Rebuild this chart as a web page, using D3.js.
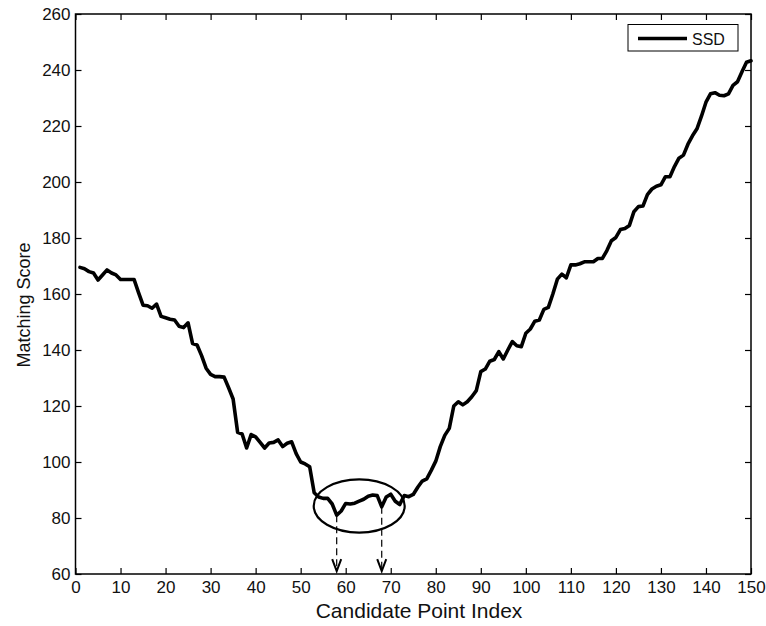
<!DOCTYPE html>
<html>
<head>
<meta charset="utf-8">
<script src="https://cdn.jsdelivr.net/npm/d3@7/dist/d3.min.js"></script>
<style>
  html, body { margin: 0; padding: 0; background: #fff; }
  svg { display: block; font-family: "Liberation Sans", Arial, Helvetica, sans-serif; }
</style>
</head>
<body>
<svg id="chart" width="766" height="626"></svg>
<script>
// Candidate point indices 1..150 and their SSD matching scores
const candidateIndex = d3.range(1, 151);
const ssdScores = [
  169.5, 169.0, 168.0, 167.5, 165.0, 166.8, 168.6, 167.5, 166.8, 165.2,
  165.2, 165.2, 165.2, 160.5, 156.0, 155.8, 154.9, 156.4, 152.0, 151.5,
  151.0, 150.7, 148.5, 148.0, 149.7, 142.3, 141.8, 138.0, 133.5, 131.3,
  130.5, 130.5, 130.3, 126.5, 122.5, 110.6, 110.0, 105.0, 109.8, 109.0,
  107.0, 105.0, 106.8, 107.0, 107.9, 105.5, 106.7, 107.2, 103.0, 100.0,
  99.3, 98.3, 89.0, 87.5, 87.0, 87.0, 85.0, 81.0, 82.5, 85.2,
  85.0, 85.3, 86.0, 86.7, 87.8, 88.2, 88.0, 84.0, 87.5, 88.5,
  86.0, 84.8, 88.0, 87.6, 88.4, 91.0, 93.2, 94.0, 97.0, 100.3,
  105.5, 109.5, 112.0, 120.0, 121.5, 120.4, 121.5, 123.3, 125.5, 132.3,
  133.2, 136.0, 136.6, 139.4, 136.8, 140.0, 143.0, 141.5, 141.2, 146.0,
  147.5, 150.3, 150.7, 154.5, 155.2, 160.0, 165.3, 167.1, 165.8, 170.4,
  170.4, 170.8, 171.5, 171.5, 171.5, 172.7, 172.7, 175.5, 179.0, 180.2,
  183.0, 183.4, 184.5, 189.4, 191.2, 191.4, 195.5, 197.5, 198.5, 199.0,
  201.9, 201.9, 205.5, 208.5, 209.6, 213.5, 216.5, 219.0, 223.5, 228.5,
  231.5, 231.9, 231.0, 230.8, 231.5, 234.5, 235.8, 239.4, 242.8, 243.3
];

// Axis ticks
const xTicks = d3.range(0, 151, 10);
const yTicks = d3.range(60, 261, 20);

// Highlighted region around the minimum and the two marked candidates
const regionCenter = [63, 84.3];
const regionRadii = [10.1, 9.5];
const markedIndex = [58, 68];

const seriesName = "SSD";
const xTitle = "Candidate Point Index";
const yTitle = "Matching Score";

const svg = d3.select("#chart");
const x = d3.scaleLinear().domain([0, 150]).range([75.5, 751]);
const y = d3.scaleLinear().domain([60, 260]).range([574, 14]);

const data = candidateIndex.map((i, k) => ({ i, v: ssdScores[k] }));
const tickLen = 6;

// Bottom and left axes with labels, ticks pointing inward
const gx = svg.append("g").attr("transform", `translate(0,${y(60)})`)
  .call(d3.axisBottom(x).tickValues(xTicks).tickSizeInner(-tickLen).tickSizeOuter(0).tickPadding(7));
const gy = svg.append("g").attr("transform", `translate(${x(0)},0)`)
  .call(d3.axisLeft(y).tickValues(yTicks).tickSizeInner(-tickLen).tickSizeOuter(0).tickPadding(5));
// Top and right axes: ticks only
const gt = svg.append("g").attr("transform", `translate(0,${y(260)})`)
  .call(d3.axisTop(x).tickValues(xTicks).tickSizeInner(-tickLen).tickSizeOuter(0).tickFormat(""));
const gr = svg.append("g").attr("transform", `translate(${x(150)},0)`)
  .call(d3.axisRight(y).tickValues(yTicks).tickSizeInner(-tickLen).tickSizeOuter(0).tickFormat(""));

[gx, gy, gt, gr].forEach(g => {
  g.select(".domain").remove();
  g.selectAll(".tick line").attr("stroke", "#000").attr("stroke-width", 1.2);
  g.selectAll(".tick text").attr("fill", "#111").style("font-size", "17px")
    .style("font-family", '"Liberation Sans", Arial, sans-serif');
});

// Plot box
svg.append("rect")
  .attr("x", x(0)).attr("y", y(260))
  .attr("width", x(150) - x(0)).attr("height", y(60) - y(260))
  .attr("fill", "none").attr("stroke", "#000").attr("stroke-width", 1.5);

// SSD curve
const line = d3.line().x(d => x(d.i)).y(d => y(d.v));
svg.append("path").datum(data)
  .attr("d", line)
  .attr("fill", "none").attr("stroke", "#000")
  .attr("stroke-width", 3.6).attr("stroke-linejoin", "round").attr("stroke-linecap", "round");

// Ellipse around the minimum region
svg.append("ellipse")
  .attr("cx", x(regionCenter[0])).attr("cy", y(regionCenter[1]))
  .attr("rx", x(regionCenter[0] + regionRadii[0]) - x(regionCenter[0]))
  .attr("ry", y(regionCenter[1] - regionRadii[1]) - y(regionCenter[1]))
  .attr("fill", "none").attr("stroke", "#000").attr("stroke-width", 2.2);

// Dashed arrows from the marked candidates down to the axis
const arrowTip = 61;
markedIndex.forEach(mi => {
  const v = ssdScores[candidateIndex.indexOf(mi)];
  const ax = x(mi);
  const tipY = y(arrowTip);
  svg.append("line")
    .attr("x1", ax).attr("x2", ax).attr("y1", y(v)).attr("y2", tipY - 2)
    .attr("stroke", "#000").attr("stroke-width", 1.2).attr("stroke-dasharray", "7,4");
  svg.append("path")
    .attr("d", `M${ax - 4.5},${tipY - 12} L${ax},${tipY} L${ax + 4.5},${tipY - 12}`)
    .attr("fill", "none").attr("stroke", "#000").attr("stroke-width", 2);
});

// Axis titles
svg.append("text")
  .attr("x", 419).attr("y", 618)
  .attr("text-anchor", "middle").style("font-size", "21px").attr("fill", "#111")
  .text(xTitle);
svg.append("text")
  .attr("transform", "translate(30,305) rotate(-90)")
  .attr("text-anchor", "middle").style("font-size", "18px").attr("fill", "#111")
  .text(yTitle);

// Legend
const lg = svg.append("g");
lg.append("rect").attr("x", 628).attr("y", 24.5).attr("width", 110).attr("height", 26.5)
  .attr("fill", "#fff").attr("stroke", "#000").attr("stroke-width", 1);
lg.append("line").attr("x1", 638).attr("x2", 687).attr("y1", 38.5).attr("y2", 38.5)
  .attr("stroke", "#000").attr("stroke-width", 3.6);
lg.append("text").attr("x", 692).attr("y", 44.5).style("font-size", "16px").attr("fill", "#111")
  .text(seriesName);
</script>
</body>
</html>
